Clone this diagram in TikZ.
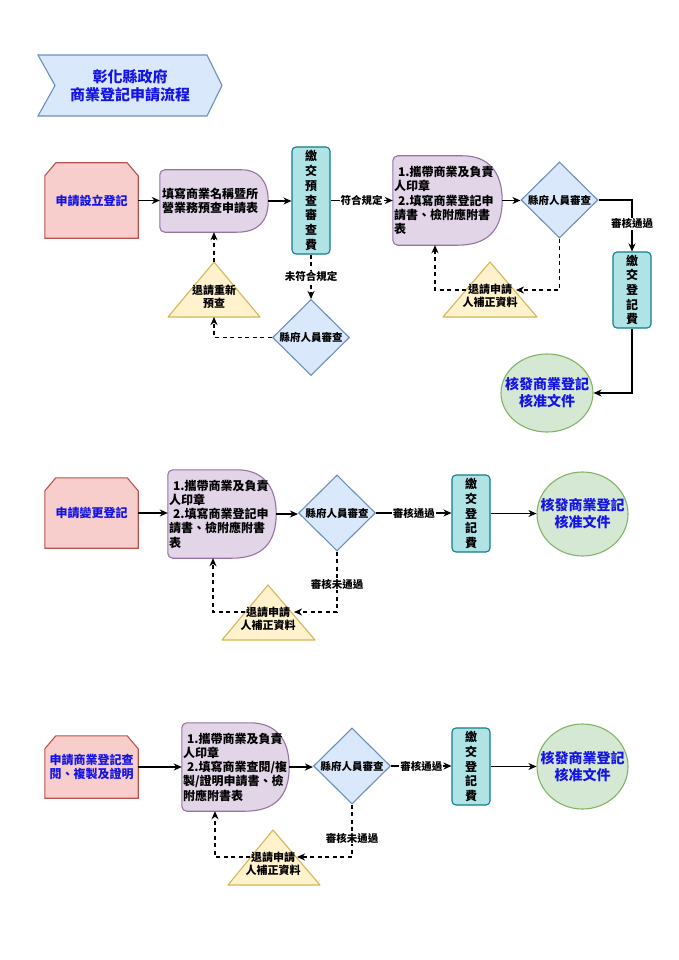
\documentclass[tikz,border=0pt]{standalone}
\usepackage{fontspec}
\setmainfont{Noto Sans CJK TC}
\usetikzlibrary{arrows.meta,shapes.geometric,calc,backgrounds}
\definecolor{redF}{HTML}{F8CECC}
\definecolor{redS}{HTML}{B85450}
\definecolor{purF}{HTML}{E1D5E7}
\definecolor{purS}{HTML}{9673A6}
\definecolor{tealF}{HTML}{B0E3E6}
\definecolor{tealS}{HTML}{0E8088}
\definecolor{bluF}{HTML}{DAE8FC}
\definecolor{bluS}{HTML}{6C8EBF}
\definecolor{yelF}{HTML}{FFF2CC}
\definecolor{yelS}{HTML}{D6B656}
\definecolor{grnF}{HTML}{D5E8D4}
\definecolor{grnS}{HTML}{82B366}
\definecolor{bluT}{HTML}{1414E6}
\tikzset{
  shapeline/.style={line width=1.1pt},
  cutst/.style={shapeline, draw=redS, fill=redF},
  delayst/.style={shapeline, draw=purS, fill=purF},
  trist/.style={shapeline, draw=yelS, fill=yelF, line join=round},
  titlest/.style={shapeline, draw=bluS, fill=bluF},
  cutnode/.style={minimum width=93pt, inner sep=0pt, text=bluT, align=center, font=\bfseries\fontsize{12}{13.6}\selectfont},
  delaynode/.style={inner sep=0pt, align=left, font=\bfseries\fontsize{12}{14.3}\selectfont},
  vbox/.style={shapeline, draw=tealS, fill=tealF, rounded corners=4pt, minimum width=38pt, inner sep=0pt, align=center, font=\bfseries\fontsize{12}{14.7}\selectfont},
  dia/.style={diamond, aspect=1, shapeline, draw=bluS, fill=bluF, minimum width=77pt, minimum height=76pt, inner sep=0pt, font=\bfseries\fontsize{10.5}{12}\selectfont},
  ell/.style={ellipse, shapeline, draw=grnS, fill=grnF, inner xsep=-10pt, inner ysep=0pt, text=bluT, align=center, font=\bfseries\fontsize{14}{17}\selectfont},
  tritxt/.style={inner sep=0pt, align=center, font=\bfseries\fontsize{11}{13}\selectfont},
  lbl/.style={fill=white, inner sep=1pt, font=\bfseries\fontsize{10.5}{12}\selectfont},
  arr/.style={line width=1.3pt, -{Stealth[length=8pt,width=7pt,inset=2.5pt]}},
  darr/.style={arr, dash pattern=on 4pt off 3.5pt},
}
\newcommand\cutbg[1]{\path[cutst] ([yshift=-13pt]#1.north west) -- ([xshift=11pt]#1.north west) -- ([xshift=-11pt]#1.north east) -- ([yshift=-13pt]#1.north east) -- (#1.south east) -- (#1.south west) -- cycle;}
\newcommand\delaybg[1]{\path[delayst] let \p1=(#1.north west), \p2=(#1.south east), \n1={(\y1-\y2)/2} in
  (\x2-\n1,\y1) .. controls (\x2-\n1/3,\y1) and (\x2,\y1-\n1/3) .. (\x2,\y1-\n1)
  .. controls (\x2,\y2+\n1/3) and (\x2-\n1/3,\y2) .. (\x2-\n1,\y2)
  [rounded corners=5pt] -- (\x1,\y2) -- (\x1,\y1) -- cycle;}
\begin{document}
\begin{tikzpicture}[x=1pt,y=-1pt]
\useasboundingbox (0,0) rectangle (678,960);
% title
\path[titlest] (38,55) -- (207,55) -- (222,85.5) -- (207,116) -- (38,116) -- (55,85.5) -- cycle;
\node[text=bluT, align=center, inner sep=0pt, font=\bfseries\fontsize{15}{18}\selectfont] (title) at (130,86) {彰化縣政府\\商業登記申請流程};
% ---------- row 1
\node[cutnode, minimum height=75pt] (a1) at (91.5,200.5) {申請設立登記};
\node[delaynode, minimum width=108pt, minimum height=62pt, text width=104pt] (b1) at (214,201) {填寫商業名稱暨所\\營業務預查申請表};
\node[vbox, minimum height=107pt] (c1) at (311,200.5) {繳\\交\\預\\查\\審\\查\\費};
\node[delaynode, minimum width=109pt, minimum height=89pt, text width=107pt] (b2) at (447.5,200.5) {\hspace*{4pt}1.攜帶商業及負責\\人印章\\\hspace*{4pt}2.填寫商業登記申\\請書、檢附應附書\\表};
\node[dia] (d1) at (559.5,200) {縣府人員審查};
\node[vbox, minimum height=76pt] (e1) at (632,290) {繳\\交\\登\\記\\費};
\node[ell, minimum width=92pt, minimum height=78pt] (f1) at (547,393) {核發商業登記\\核准文件};
\node[dia] (d2) at (311,337.5) {縣府人員審查};
\path[trist] (214,262) -- (260,317) -- (168,317) -- cycle;
\node[tritxt] (t0) at (214,296.5) {退請重新\\預查};
\path[trist] (490,262) -- (537,317) -- (443,317) -- cycle;
\node[tritxt] (t1) at (490,296) {退請申請\\人補正資料};
\coordinate (t0a) at (214,262);
\coordinate (t0b) at (214,317);
\coordinate (t1r) at (516,290);
\coordinate (t1l) at (466,290);
% ---------- row 2
\node[cutnode, minimum height=70pt] (a2) at (91.5,513) {申請變更登記};
\node[delaynode, minimum width=108pt, minimum height=88pt, text width=106pt] (b3) at (222,514) {\hspace*{4pt}1.攜帶商業及負責\\人印章\\\hspace*{4pt}2.填寫商業登記申\\請書、檢附應附書\\表};
\node[dia] (d3) at (337,513) {縣府人員審查};
\node[vbox, minimum height=77pt] (e2) at (471,513.5) {繳\\交\\登\\記\\費};
\node[ell, minimum width=91pt, minimum height=84pt] (f2) at (582.5,514) {核發商業登記\\核准文件};
\path[trist] (268,585) -- (315,640) -- (222,640) -- cycle;
\node[tritxt] (t2) at (268,619) {退請申請\\人補正資料};
\coordinate (t2r) at (294,612);
\coordinate (t2l) at (245,612);
% ---------- row 3
\node[cutnode, minimum height=62pt] (a3) at (91.5,767) {申請商業登記查\\閱、複製及證明};
\node[delaynode, minimum width=107pt, minimum height=88pt, text width=105pt] (b4) at (235.5,767) {\hspace*{4pt}1.攜帶商業及負責\\人印章\\\hspace*{4pt}2.填寫商業查閱/複\\製/證明申請書、檢\\附應附書表};
\node[dia] (d4) at (352,766) {縣府人員審查};
\node[vbox, minimum height=77pt] (e3) at (471,766.5) {繳\\交\\登\\記\\費};
\node[ell, minimum width=91pt, minimum height=85pt] (f3) at (582.5,766.5) {核發商業登記\\核准文件};
\path[trist] (273,830) -- (320,885) -- (228,885) -- cycle;
\node[tritxt] (t3) at (273,864) {退請申請\\人補正資料};
\coordinate (t3r) at (297,857);
\coordinate (t3l) at (250,857);
% ---------- backgrounds
\begin{scope}[on background layer]
\fill[white] (0,0) rectangle (678,960);
\cutbg{a1}\cutbg{a2}\cutbg{a3}
\delaybg{b1}\delaybg{b2}\delaybg{b3}\delaybg{b4}
\end{scope}
% ---------- connectors row 1
\draw[arr] (a1.east) -- (a1.east -| b1.west);
\draw[arr] (b1.east) -- (b1.east -| c1.west);
\draw[arr] (c1.east) -- node[lbl]{符合規定} (c1.east -| b2.west);
\draw[arr] (b2.east) -- (b2.east -| d1.west);
\draw[arr] (d1.east) -| node[lbl, pos=0.73]{審核通過} (e1.north);
\draw[arr] (e1.south) |- (f1.east);
\draw[darr] (d1.south) |- (t1r);
\draw[darr] (t1l) -| ([xshift=-12.5pt]b2.south);
\draw[darr] (c1.south) -- node[lbl]{未符合規定} (d2.north);
\draw[darr] (d2.west) -| (t0b);
\draw[darr] (t0a) -- (t0a |- b1.south);
% ---------- connectors row 2
\draw[arr] (a2.east) -- (a2.east -| b3.west);
\draw[arr] (b3.east) -- (b3.east -| d3.west);
\draw[arr] (d3.east) -- node[lbl]{審核通過} (d3.east -| e2.west);
\draw[arr] (e2.east) -- (e2.east -| f2.west);
\draw[darr] (d3.south) |- node[lbl, pos=0.27]{審核未通過} (t2r);
\draw[darr] (t2l) -| ([xshift=-9pt]b3.south);
% ---------- connectors row 3
\draw[arr] (a3.east) -- (a3.east -| b4.west);
\draw[arr] (b4.east) -- (b4.east -| d4.west);
\draw[arr] (d4.east) -- node[lbl]{審核通過} (d4.east -| e3.west);
\draw[arr] (e3.east) -- (e3.east -| f3.west);
\draw[darr] (d4.south) |- node[lbl, pos=0.32]{審核未通過} (t3r);
\draw[darr] (t3l) -| ([xshift=-20.5pt]b4.south);
\end{tikzpicture}
\end{document}
